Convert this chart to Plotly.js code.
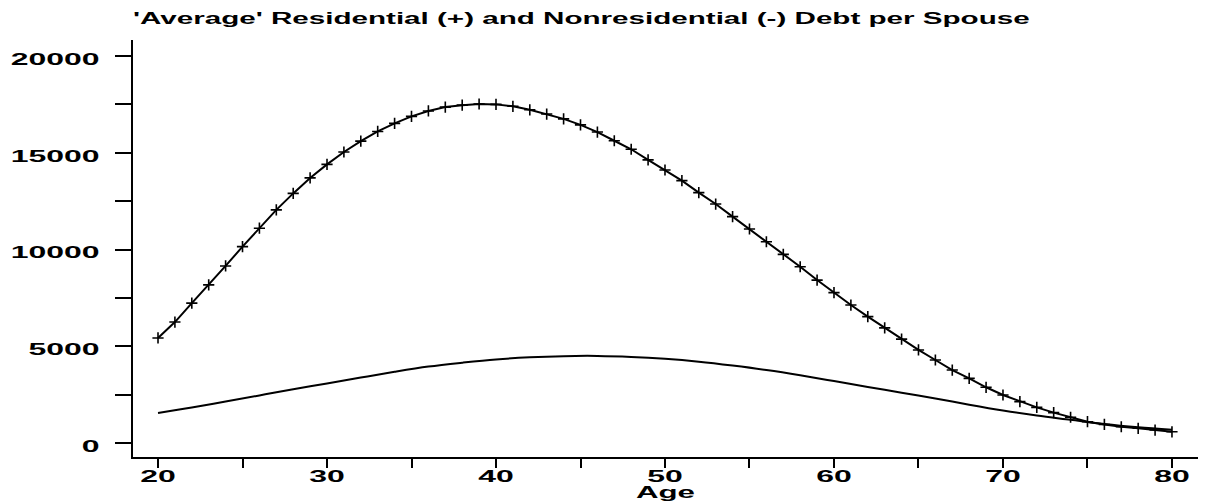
<!DOCTYPE html>
<html>
<head>
<meta charset="utf-8">
<script src="https://cdn.plot.ly/plotly-3.0.1.min.js"></script>
<style>
  html, body { margin: 0; padding: 0; background: #fff; }
  #chart { width: 1212px; height: 502px; }
</style>
</head>
<body>
<div id="chart"></div>
<script>
// ---- data ----
const agesResidential = [20,21,22,23,24,25,26,27,28,29,30,31,32,33,34,35,36,37,38,39,40,
  41,42,43,44,45,46,47,48,49,50,51,52,53,54,55,56,57,58,59,60,
  61,62,63,64,65,66,67,68,69,70,71,72,73,74,75,76,77,78,79,80];
const residentialDebt = [5430,6250,7230,8170,9150,10150,11100,12050,12900,13700,14400,15040,15600,16100,16520,16880,17160,17360,17460,17520,17500,
  17400,17220,17000,16750,16440,16070,15620,15180,14630,14110,13560,12940,12350,11700,11060,10400,9750,9110,8420,7770,
  7130,6530,5950,5370,4810,4290,3770,3340,2880,2480,2140,1840,1570,1330,1100,960,840,760,670,580];

const agesNonresidential = [20,22,24,26,28,30,32,34,36,38,40,42,44,46,48,50,52,54,56,58,60,62,64,66,68,70,72,74,76,78,80];
const nonresidentialDebt = [1550,1830,2140,2460,2780,3080,3380,3680,3950,4150,4320,4430,4490,4500,4450,4350,4200,4000,3770,3500,3200,2900,2600,2300,1980,1680,1420,1200,980,810,680];

const xTickVals = [20,25,30,35,40,45,50,55,60,65,70,75,80];
const xTickText = ['20','','30','','40','','50','','60','','70','','80'];
const yTickVals = [0,2500,5000,7500,10000,12500,15000,17500,20000];
const yTickText = ['0','','5000','','10000','','15000','','20000'];

const titleText = "'Average' Residential (+) and Nonresidential (-) Debt per Spouse";
const xTitleText = 'Age';

// ---- chart ----
const FONT = 'Liberation Sans, Arial, Helvetica, sans-serif';
const traces = [
  {
    x: agesResidential, y: residentialDebt, type: 'scatter', mode: 'lines+markers',
    name: 'Residential',
    line: { color: '#000', width: 2 },
    marker: { symbol: 'cross-thin', size: 8, color: '#000', line: { color: '#000', width: 1.6 } }
  },
  {
    x: agesNonresidential, y: nonresidentialDebt, type: 'scatter', mode: 'lines',
    name: 'Nonresidential',
    line: { color: '#000', width: 2, shape: 'spline' }
  }
];

const layout = {
  width: 1212, height: 502,
  paper_bgcolor: '#fff', plot_bgcolor: '#fff',
  showlegend: false,
  margin: { l: 133, r: 14, t: 40, b: 45 },
  font: { family: FONT, color: '#000', size: 16, weight: 'bold' },
  title: {
    text: titleText,
    font: { family: FONT, size: 16, color: '#000', weight: 'bold' },
    x: 133 / 1212, xanchor: 'left', xref: 'container',
    y: 1 - 18.5 / 502, yanchor: 'middle', yref: 'container'
  },
  xaxis: {
    range: [18.52, 81.54],
    showgrid: false, zeroline: false,
    showline: true, linecolor: '#000', linewidth: 2,
    ticks: 'outside', ticklen: 9, tickwidth: 2, tickcolor: '#000',
    tickmode: 'array', tickvals: xTickVals, ticktext: xTickText,
    tickfont: { family: FONT, size: 17, color: '#000', weight: 'bold' },
    ticklabelstandoff: 0,
    title: { text: xTitleText, font: { family: FONT, size: 16, color: '#000', weight: 'bold' }, standoff: 0 }
  },
  yaxis: {
    range: [-723, 20827],
    showgrid: false, zeroline: false,
    showline: true, linecolor: '#000', linewidth: 2,
    ticks: 'outside', ticklen: 16, tickwidth: 2, tickcolor: '#000',
    tickmode: 'array', tickvals: yTickVals, ticktext: yTickText,
    tickfont: { family: FONT, size: 17, color: '#000', weight: 'bold' },
    ticklabelstandoff: 12
  }
};

// the reference lettering is very wide; stretch the real text horizontally about its anchor
function stretchText(gd) {
  const apply = (sel, sx, dy) => {
    gd.querySelectorAll(sel).forEach(t => {
      let base = t.getAttribute('data-base-transform');
      if (base === null) { base = t.getAttribute('transform') || ''; t.setAttribute('data-base-transform', base); }
      const x = parseFloat(t.getAttribute('x')) || 0;
      t.setAttribute('transform', base + ' translate(0,' + dy + ') translate(' + x + ',0) scale(' + sx + ',1) translate(' + (-x) + ',0)');
    });
  };
  apply('.xtick text', 1.88, -6);
  apply('.ytick text', 1.88, 3);
  apply('.gtitle', 1.85, 0);
  apply('.g-xtitle text', 1.95, -1);
}

const gd = document.getElementById('chart');
Plotly.newPlot(gd, traces, layout, { displayModeBar: false, staticPlot: true }).then(stretchText);
</script>
</body>
</html>
